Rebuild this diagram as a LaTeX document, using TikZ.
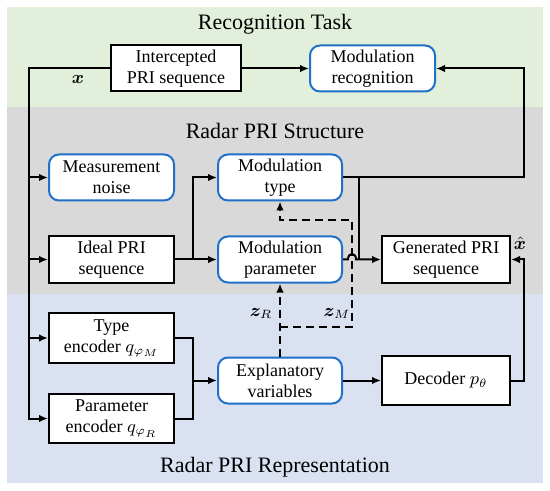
\documentclass[tikz,border=0pt]{standalone}
\usepackage{amsmath,bm}
\usepackage{fontspec}
\setmainfont{Liberation Serif}
\usetikzlibrary{arrows.meta,positioning,calc}
\definecolor{taskgreen}{RGB}{226,239,218}
\definecolor{structgray}{RGB}{217,217,217}
\definecolor{reprblue}{RGB}{218,226,242}
\definecolor{edgeblue}{RGB}{30,112,200}

\begin{document}
\begin{tikzpicture}[x=0.5pt, y=-0.5pt,
  sq/.style={draw=black, line width=1pt, fill=white, align=center, font=\fontsize{9}{10.5}\selectfont, inner sep=2pt, minimum height=23pt},
  rnd/.style={sq, draw=edgeblue, rounded corners=5pt},
  band/.style={font=\fontsize{11}{13}\selectfont},
  arr/.style={-{Latex[length=4.5pt,width=3.8pt]}, line width=1pt},
  dsh/.style={arr, dash pattern=on 4pt off 2.5pt},
  lbl/.style={font=\fontsize{9}{10}\selectfont}]
\useasboundingbox (0,0) rectangle (550,491);
\fill[taskgreen] (7,7) rectangle (543,107);
\fill[structgray] (7,107) rectangle (543,294);
\fill[reprblue] (7,294) rectangle (543,483);
\node[band] (ttask) at (275,24) {Recognition Task};
\node[band] (tstruct) at (275,131) {Radar PRI Structure};
\node[band] (trepr) at (275,467) {Radar PRI Representation};
% boxes
\node[sq, minimum width=65pt] (inter) at (176,68.5) {Intercepted\\PRI sequence};
\node[rnd, minimum width=62.5pt] (recog) at (372.5,68.5) {Modulation\\recognition};
\node[rnd, minimum width=62.5pt] (noise) at (111.5,177.5) {Measurement\\noise};
\node[rnd, minimum width=62pt] (mtype) at (280,177.5) {Modulation\\type};
\node[sq, minimum width=62.5pt] (ideal) at (111.5,259.5) {Ideal PRI\\sequence};
\node[rnd, minimum width=62pt] (mpar) at (280,259.5) {Modulation\\parameter};
\node[sq, minimum width=64pt] (gen) at (446,259.5) {Generated PRI\\sequence};
\node[sq, minimum width=62.5pt, minimum height=25pt] (tenc) at (111.5,338) {Type\\encoder $q_{\varphi_M}$};
\node[rnd, minimum width=62pt] (expl) at (280,380.5) {Explanatory\\variables};
\node[sq, minimum width=64pt, minimum height=24.5pt] (dec) at (446,380.5) {Decoder $p_\theta$};
\node[sq, minimum width=62.5pt, minimum height=24.5pt] (penc) at (111.5,418.5) {Parameter\\encoder $q_{\varphi_R}$};
% labels
\node[lbl] (xin) at (78,80) {$\bm{x}$};
\node[lbl] (xhat) at (520,243) {$\hat{\bm{x}}$};
\node[lbl] (zr) at (261,313) {$\bm{z}_R$};
\node[lbl] (zm) at (337,313) {$\bm{z}_M$};
% connectors
\coordinate (spine) at (29,0);
\coordinate (rspine) at (524,0);
\coordinate (bx) at (193,0);
\coordinate (jn) at (359,0);
\coordinate (zm1) at (352,327);
\coordinate (zm2) at (352,220);
\coordinate (zsplit) at (expl.north |- zm1);
\draw[arr] (inter.west) -| (spine |- penc) -- (penc.west);
\draw[arr] (spine |- noise) -- (noise.west);
\draw[arr] (spine |- ideal) -- (ideal.west);
\draw[arr] (spine |- tenc) -- (tenc.west);
\draw[arr] (inter) -- (recog);
\draw[arr] (mtype.east) -| (rspine |- recog) -- (recog.east);
\draw[line width=1pt] (jn |- mtype) -- (jn |- gen);
\draw[arr] (ideal) -- (mpar);
\draw[arr] (bx |- ideal) |- (mtype.west);
\draw[arr] (mpar.east) -- (348,259.5) .. controls (348,252) and (356,252) .. (356,259.5) -- (gen.west);
\draw[arr] (dec.east) -| (rspine |- gen) -- (gen.east);
\draw[arr] (tenc.east) -| (bx |- expl) -- (expl.west);
\draw[line width=1pt] (penc.east) -| (bx |- expl);
\draw[arr] (expl) -- (dec);
\draw[dsh] (expl.north) -- (mpar.south);
\draw[dsh] (zsplit) -- (zm1) -- (zm2) -| (mtype.south);
\end{tikzpicture}
\end{document}
